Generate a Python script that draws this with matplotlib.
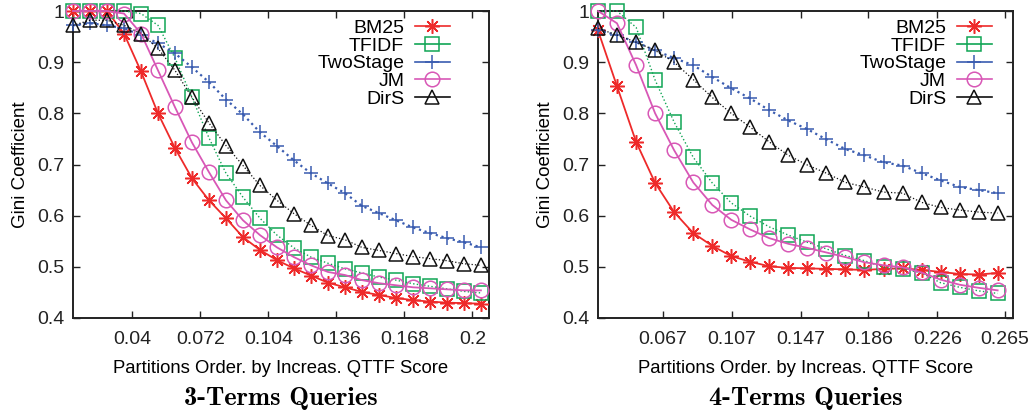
import matplotlib
matplotlib.use("Agg")
import matplotlib.pyplot as plt
from matplotlib.lines import Line2D
from matplotlib.font_manager import FontProperties
import os

plt.rcParams["font.family"] = ["Liberation Sans", "DejaVu Sans"]

# 3-term queries
x3 = [0.012, 0.020, 0.028, 0.036, 0.044, 0.052, 0.060, 0.068, 0.076, 0.084,
      0.092, 0.100, 0.108, 0.116, 0.124, 0.132, 0.140, 0.148, 0.156, 0.164,
      0.172, 0.180, 0.188, 0.196, 0.204]
bm25_3 = [1.0, 1.0, 1.0, 0.956, 0.882, 0.800, 0.732, 0.673, 0.630, 0.595,
          0.558, 0.533, 0.513, 0.497, 0.483, 0.469, 0.460, 0.451, 0.445, 0.439,
          0.435, 0.432, 0.430, 0.429, 0.428]
tfidf_3 = [1.0, 1.0, 1.0, 1.0, 0.995, 0.972, 0.908, 0.831, 0.752, 0.683,
           0.636, 0.595, 0.562, 0.537, 0.519, 0.507, 0.496, 0.488, 0.480, 0.474,
           0.467, 0.462, 0.457, 0.452, 0.449]
twostage_3 = [0.972, 0.976, 0.972, 0.966, 0.953, 0.937, 0.917, 0.890, 0.861, 0.827,
              0.798, 0.763, 0.736, 0.708, 0.683, 0.663, 0.644, 0.619, 0.605, 0.591,
              0.577, 0.566, 0.556, 0.548, 0.538]
jm_3 = [1.0, 1.0, 1.0, 0.995, 0.956, 0.884, 0.812, 0.743, 0.685, 0.630,
        0.591, 0.562, 0.538, 0.519, 0.503, 0.490, 0.484, 0.474, 0.468, 0.464,
        0.460, 0.458, 0.456, 0.454, 0.454]
dirs_3 = [0.972, 0.982, 0.982, 0.972, 0.956, 0.927, 0.884, 0.831, 0.781, 0.737,
          0.698, 0.659, 0.630, 0.604, 0.581, 0.561, 0.553, 0.538, 0.532, 0.526,
          0.520, 0.516, 0.512, 0.506, 0.503]
ticks3 = [0.04, 0.072, 0.104, 0.136, 0.168, 0.2]
ticklabels3 = ["0.04", "0.072", "0.104", "0.136", "0.168", "0.2"]

# 4-term queries
x4 = [0.0294, 0.0404, 0.0515, 0.0625, 0.0735, 0.0846, 0.0956, 0.1066, 0.1176, 0.1287,
      0.1397, 0.1507, 0.1618, 0.1728, 0.1838, 0.1949, 0.2059, 0.2169, 0.2279, 0.2390,
      0.2500, 0.2610]
bm25_4 = [0.962, 0.853, 0.744, 0.664, 0.607, 0.566, 0.541, 0.521, 0.510, 0.501,
          0.498, 0.497, 0.496, 0.495, 0.494, 0.496, 0.497, 0.494, 0.490, 0.486,
          0.485, 0.488]
tfidf_4 = [1.0, 1.0, 0.968, 0.865, 0.783, 0.714, 0.664, 0.625, 0.599, 0.578,
           0.562, 0.548, 0.535, 0.522, 0.512, 0.499, 0.496, 0.488, 0.469, 0.460,
           0.453, 0.448]
twostage_4 = [0.962, 0.953, 0.939, 0.923, 0.908, 0.894, 0.871, 0.849, 0.829, 0.806,
              0.786, 0.769, 0.749, 0.730, 0.718, 0.704, 0.698, 0.683, 0.669, 0.656,
              0.650, 0.644]
jm_4 = [1.0, 0.976, 0.894, 0.800, 0.728, 0.665, 0.621, 0.592, 0.573, 0.556,
        0.545, 0.537, 0.528, 0.519, 0.509, 0.503, 0.499, 0.489, 0.475, 0.465,
        0.459, 0.454]
dirs_4 = [0.966, 0.953, 0.939, 0.923, 0.900, 0.866, 0.831, 0.800, 0.773, 0.744,
          0.718, 0.699, 0.683, 0.665, 0.656, 0.646, 0.644, 0.626, 0.616, 0.611,
          0.607, 0.605]
ticks4 = [0.067, 0.107, 0.147, 0.186, 0.226, 0.265]
ticklabels4 = ["0.067", "0.107", "0.147", "0.186", "0.226", "0.265"]

names = ["BM25", "TFIDF", "TwoStage", "JM", "DirS"]
colors = ["#ee2a2a", "#10a555", "#3a5cb0", "#d857b6", "#111111"]
markers = [(8, 2, 0), "s", "+", "o", "^"]
styles = ["-", ":", ":", "-", ":"]
widths = [1.3, 1.0, 1.6, 1.3, 0.9]

cmb = FontProperties(fname=os.path.join(matplotlib.get_data_path(), "fonts", "ttf", "cmb10.ttf"),
                     size=19)

fig = plt.figure(figsize=(10.35, 4.18), dpi=100)
ax1 = fig.add_axes([73 / 1035, 100 / 418, 416 / 1035, 307 / 418])
ax2 = fig.add_axes([598 / 1035, 100 / 418, 415 / 1035, 307 / 418])

panels = [
    (ax1, x3, [bm25_3, tfidf_3, twostage_3, jm_3, dirs_3], ticks3, ticklabels3,
     (0.012, 0.2078), "3-Terms Queries", 0.906),
    (ax2, x4, [bm25_4, tfidf_4, twostage_4, jm_4, dirs_4], ticks4, ticklabels4,
     (0.0294, 0.2699), "4-Terms Queries", 0.949),
]

for ax, xs, series, tks, tls, xlim, title, legx in panels:
    for ys, name, c, m, ls, lw in zip(series, names, colors, markers, styles, widths):
        ax.plot(xs, ys, color=c, linestyle=ls, linewidth=lw, marker=m,
                markersize=10.5, markerfacecolor="none", markeredgecolor=c,
                markeredgewidth=1.1, clip_on=False, zorder=3)
    ax.set_xlim(*xlim)
    ax.set_ylim(0.4, 1.0)
    ax.set_xticks(tks)
    ax.set_xticklabels(tls)
    ax.set_yticks([0.4, 0.5, 0.6, 0.7, 0.8, 0.9, 1.0])
    ax.set_yticklabels(["0.4", "0.5", "0.6", "0.7", "0.8", "0.9", "1"])
    ax.tick_params(direction="in", length=5, width=1, top=True, right=True,
                   labelsize=14, pad=9, colors="#222222")
    ax.tick_params(axis="y", pad=6)
    for sp in ax.spines.values():
        sp.set_linewidth(1.4)
        sp.set_color("#222222")
    ax.set_xlabel("Partitions Order. by Increas. QTTF Score", fontsize=13.3, labelpad=9)
    ax.set_ylabel("Gini Coefficient", fontsize=13.5, labelpad=6)

    handles = [Line2D([], [], color=c, linestyle="-", linewidth=1.2, marker=m,
                      markersize=10.5, markerfacecolor="none", markeredgewidth=1.1)
               for c, m in zip(colors, markers)]
    ax.legend(handles, names, loc="upper right", bbox_to_anchor=(legx, 0.972),
              frameon=False, markerfirst=False, fontsize=14, borderpad=0,
              borderaxespad=0, handlelength=1.8, handletextpad=0.55,
              labelspacing=0.0)
    ax.text(0.5, -0.262, title, transform=ax.transAxes, ha="center", va="center",
            fontproperties=cmb)

fig.savefig("out.png", dpi=100)
